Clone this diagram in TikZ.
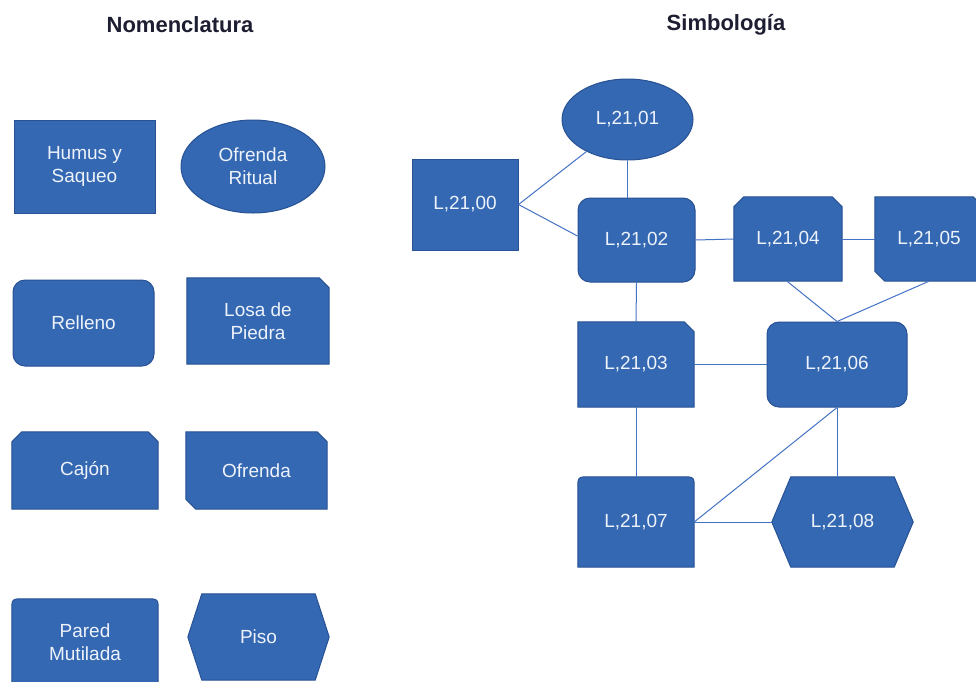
\documentclass[tikz,border=0pt]{standalone}
\usepackage{fontspec}
\setmainfont{Liberation Sans}
\usetikzlibrary{shapes.geometric,calc,backgrounds}
\definecolor{shpfill}{RGB}{52,104,178}
\definecolor{shpline}{RGB}{40,82,148}
\definecolor{conn}{RGB}{68,114,196}
\definecolor{ttl}{RGB}{30,30,50}
\definecolor{boxtext}{RGB}{238,242,250}
\begin{document}
\begin{tikzpicture}[x=1pt,y=-1pt,
  sz/.style 2 args={minimum width=#1pt, minimum height=#2pt},
  box/.style={rectangle, inner sep=0pt, text=boxtext, align=center, font=\fontsize{19}{23}\selectfont},
  plainbox/.style={box, draw=shpline, fill=shpfill, line width=1pt},
  roundbox/.style={plainbox, rounded corners=12pt},
  ellbox/.style={box, ellipse, draw=shpline, fill=shpfill, line width=1pt},
  shapepath/.style={draw=shpline, fill=shpfill, line width=1pt},
  link/.style={draw=conn, line width=1pt},
  title/.style={text=ttl, font=\bfseries\fontsize{22}{26}\selectfont}]
\useasboundingbox (0,0) rectangle (976,681);
\clip (0,0) rectangle (976,681);

% titles
\node[title] (t1) at (180,25) {Nomenclatura};
\node[title] (t2) at (726,25) {Simbología};

% ---------- legend ----------
\node[plainbox, sz={141}{93}] (hum) at (84.5,166.5) {Humus y\\Saqueo};
\node[ellbox, sz={144}{93}] (ofr) at (253,166.5) {Ofrenda\\Ritual};
\node[roundbox, sz={141}{86}] (rel) at (83.5,323) {Relleno};
\node[box, sz={142}{86}] (losa) at (258,321) {Losa de\\Piedra};
\node[box, sz={146}{77}] (caj) at (85,470.5) {Cajón};
\node[box, sz={141}{77}] (ofd) at (256.5,470.5) {Ofrenda};
\node[box, sz={146}{86}] (par) at (85,642) {Pared\\Mutilada};
\node[box, sz={141}{86}] (piso) at (258.5,637) {Piso};

% ---------- diagram ----------
\node[plainbox, sz={106}{91}] (n00) at (465,204.5) {L,21,00};
\node[ellbox, sz={131}{81}] (n01) at (627.5,119.5) {L,21,01};
\node[roundbox, sz={117}{84}] (n02) at (636.5,240) {L,21,02};
\node[box, sz={116}{85}] (n03) at (636,364.5) {L,21,03};
\node[box, sz={108}{84}] (n04) at (788,239) {L,21,04};
\node[box, sz={108}{84}] (n05) at (929,239) {L,21,05};
\node[roundbox, sz={140}{85}] (n06) at (837,364.5) {L,21,06};
\node[box, sz={116}{90}] (n07) at (636,522) {L,21,07};
\node[box, sz={141}{90}] (n08) at (842.5,522) {L,21,08};

\begin{scope}[on background layer]
  \fill[white] (0,0) rectangle (976,681);
  % snipped top-right corner
  \foreach \n in {losa,n03}{
    \path[shapepath] (\n.south west) -- (\n.north west) -- ($(\n.north east)+(-10,0)$)
      -- ($(\n.north east)+(0,10)$) -- (\n.south east) -- cycle;
  }
  % snipped top corners
  \foreach \n in {caj,n04}{
    \path[shapepath] (\n.south west) -- ($(\n.north west)+(0,10)$) -- ($(\n.north west)+(10,0)$)
      -- ($(\n.north east)+(-10,0)$) -- ($(\n.north east)+(0,10)$) -- (\n.south east) -- cycle;
  }
  % snipped diagonal corners
  \foreach \n in {ofd,n05}{
    \path[shapepath] ($(\n.south west)+(0,-10)$) -- (\n.north west) -- ($(\n.north east)+(-10,0)$)
      -- ($(\n.north east)+(0,10)$) -- (\n.south east) -- ($(\n.south west)+(10,0)$) -- cycle;
  }
  % rounded top corners
  \foreach \n in {par,n07}{
    \path[shapepath] (\n.south west) -- ($(\n.north west)+(0,12)$)
      .. controls (\n.north west) .. ($(\n.north west)+(12,0)$)
      -- ($(\n.north east)+(-12,0)$)
      .. controls (\n.north east) .. ($(\n.north east)+(0,12)$)
      -- (\n.south east) -- cycle;
  }
  % hexagons
  \path[shapepath] (piso.west) -- ($(piso.north west)+(14,0)$) -- ($(piso.north east)+(-14,0)$)
    -- (piso.east) -- ($(piso.south east)+(-14,0)$) -- ($(piso.south west)+(14,0)$) -- cycle;
  \path[shapepath] (n08.west) -- ($(n08.north west)+(19,0)$) -- ($(n08.north east)+(-19,0)$)
    -- (n08.east) -- ($(n08.south east)+(-19,0)$) -- ($(n08.south west)+(19,0)$) -- cycle;
\end{scope}

% connectors
\draw[link] (n00.east) -- (n01);
\draw[link] (n00.east) -- ($(n02.west)+(0,-4)$);
\draw[link] (n01.south) -- (n02.north -| n01.south);
\draw[link] (n02.east) -- (n04.west);
\draw[link] (n04.east) -- (n05.west);
\draw[link] ($(n04.south)+(-1,0)$) -- (n06.north);
\draw[link] (n05.south) -- (n06.north);
\draw[link] (n02.south) -- (n03.north);
\draw[link] (n03.east) -- (n06.west);
\draw[link] (n03.south) -- (n07.north);
\draw[link] (n06.south) -- (n06.south |- n08.north);
\draw[link] (n06.south) -- (n07.east);
\draw[link] (n07.east) -- (n08.west);
\end{tikzpicture}
\end{document}
